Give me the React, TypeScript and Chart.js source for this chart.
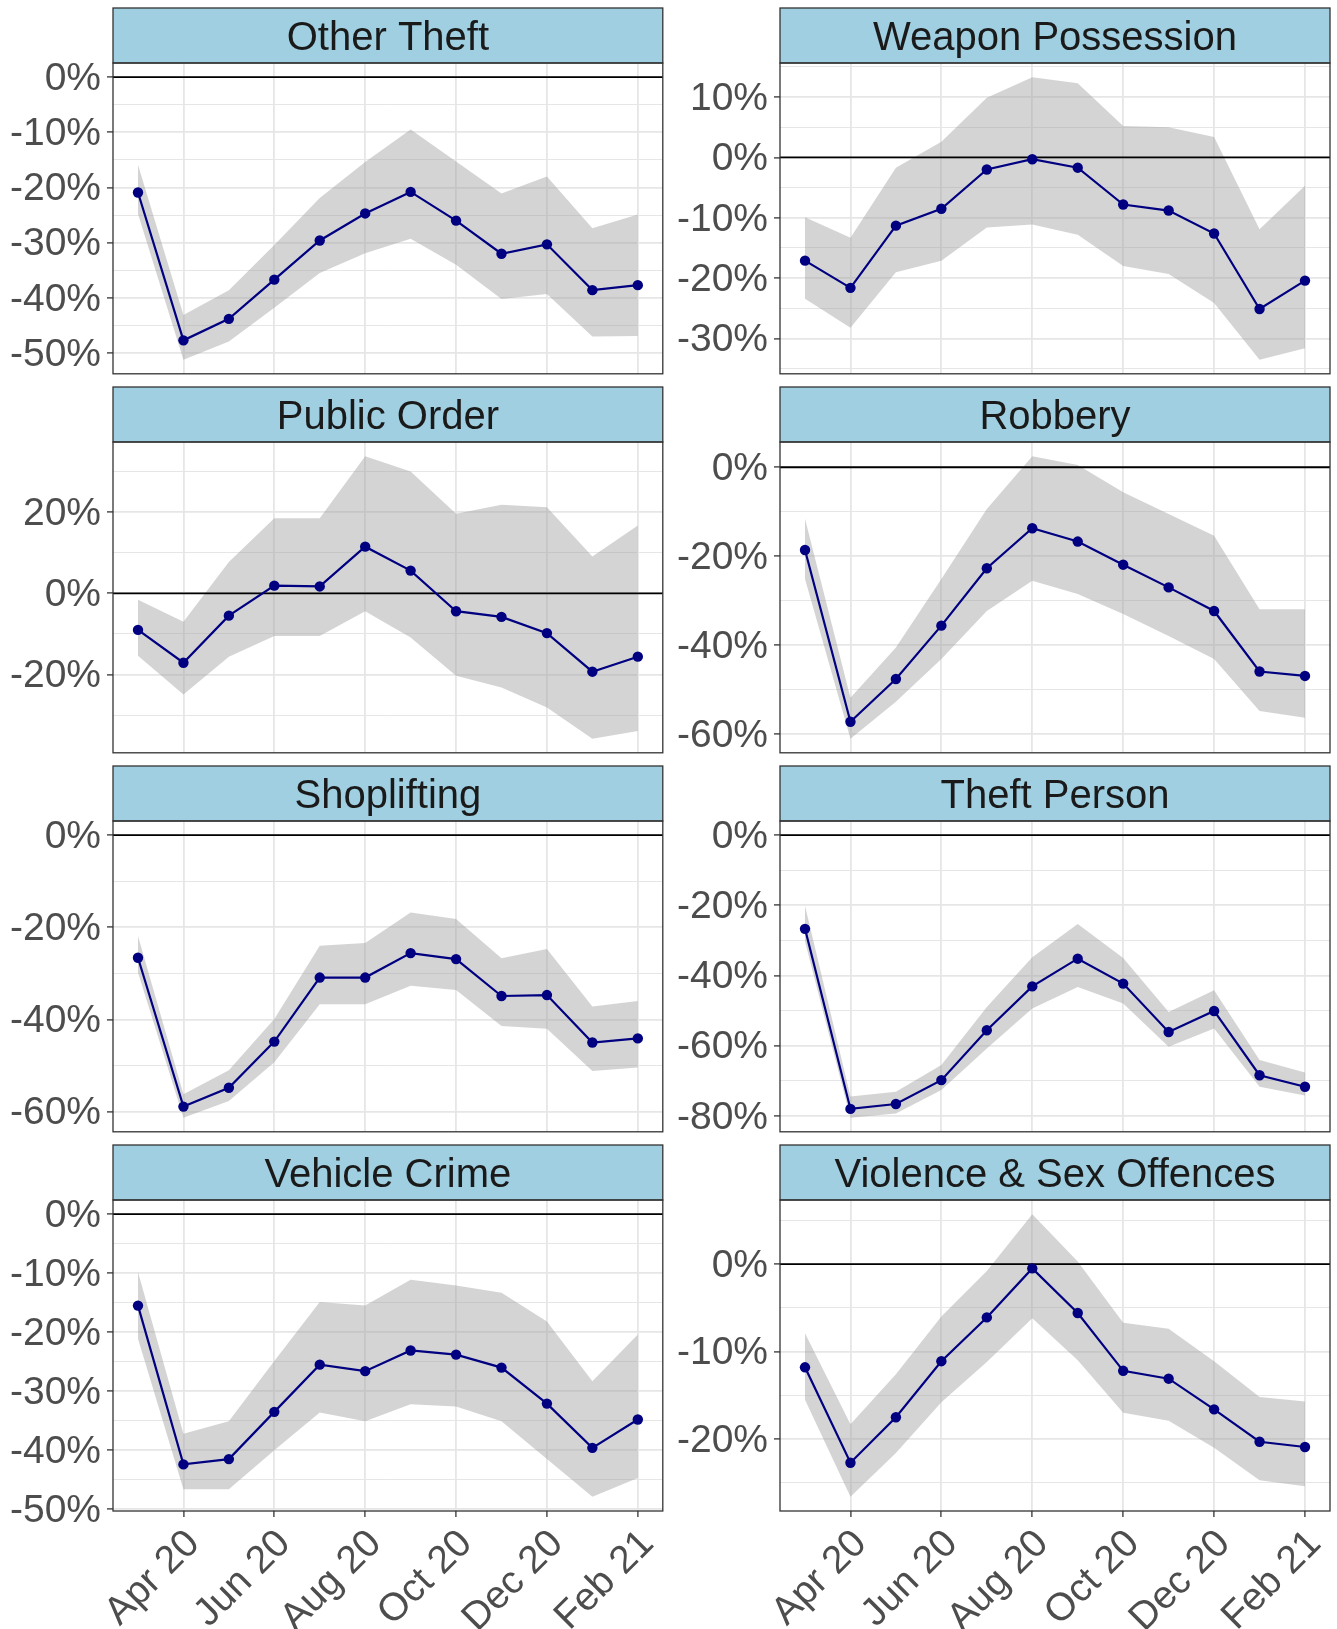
import React, { useEffect, useRef } from 'react';
import { Chart, registerables } from 'chart.js';
Chart.register(...registerables);

// ---------- data ----------
const MONTHS = ['Mar 20', 'Apr 20', 'May 20', 'Jun 20', 'Jul 20', 'Aug 20', 'Sep 20', 'Oct 20', 'Nov 20', 'Dec 20', 'Jan 21', 'Feb 21'];
const X_TICK_LABELS = ['Apr 20', 'Jun 20', 'Aug 20', 'Oct 20', 'Dec 20', 'Feb 21'];

const otherTheftEst = [-20.9, -47.7, -43.8, -36.7, -29.6, -24.7, -20.8, -26.0, -32.0, -30.3, -38.6, -37.7];
const otherTheftUpper = [-15.9, -43.1, -38.6, -30.4, -21.9, -15.4, -9.5, -15.3, -21.1, -18.0, -27.4, -24.9];
const otherTheftLower = [-24.8, -51.2, -47.9, -41.8, -35.5, -31.9, -29.3, -34.0, -40.2, -39.3, -47.0, -46.9];

const weaponEst = [-17.1, -21.6, -11.3, -8.5, -2.0, -0.3, -1.7, -7.8, -8.8, -12.6, -25.1, -20.4];
const weaponUpper = [-9.9, -13.3, -1.7, 2.6, 9.9, 13.3, 12.3, 5.2, 5.0, 3.4, -11.9, -4.7];
const weaponLower = [-23.4, -28.2, -19.0, -17.1, -11.6, -11.1, -12.8, -18.0, -19.3, -24.1, -33.5, -31.6];

const publicOrderEst = [-9.0, -17.1, -5.5, 1.9, 1.7, 11.5, 5.6, -4.4, -5.8, -9.8, -19.3, -15.6];
const publicOrderUpper = [-1.6, -7.0, 7.7, 18.5, 18.5, 33.8, 30.0, 19.6, 21.8, 21.2, 9.1, 16.7];
const publicOrderLower = [-15.4, -24.9, -15.6, -10.5, -10.5, -4.4, -10.9, -20.3, -23.2, -28.1, -35.8, -33.9];

const robberyEst = [-18.6, -57.2, -47.6, -35.6, -22.7, -13.7, -16.7, -21.9, -27.0, -32.3, -45.9, -46.9];
const robberyUpper = [-11.6, -51.8, -40.5, -25.1, -9.4, 2.5, 0.5, -5.6, -10.5, -15.4, -31.9, -31.9];
const robberyLower = [-25.1, -61.0, -52.7, -43.1, -32.3, -25.5, -28.5, -33.0, -37.9, -43.1, -54.8, -56.3];

const shopliftingEst = [-26.6, -58.9, -54.8, -44.8, -30.9, -30.9, -25.6, -26.9, -34.9, -34.7, -45.0, -44.1];
const shopliftingUpper = [-21.9, -56.2, -51.0, -39.9, -24.0, -23.4, -16.8, -18.2, -26.7, -24.7, -37.2, -36.0];
const shopliftingLower = [-29.8, -61.3, -57.7, -49.3, -36.7, -36.7, -32.7, -33.6, -41.4, -42.0, -51.2, -50.4];

const theftPersonEst = [-26.7, -78.0, -76.6, -69.8, -55.6, -43.1, -35.2, -42.3, -56.1, -50.1, -68.4, -71.7];
const theftPersonUpper = [-20.1, -74.5, -73.1, -65.5, -49.0, -34.8, -25.3, -35.0, -50.4, -44.2, -64.1, -67.6];
const theftPersonLower = [-30.3, -80.5, -79.3, -72.6, -60.8, -49.4, -43.3, -48.0, -60.3, -55.1, -71.7, -74.2];

const vehicleEst = [-15.5, -42.4, -41.5, -33.5, -25.5, -26.6, -23.1, -23.8, -26.0, -32.1, -39.6, -34.8];
const vehicleUpper = [-9.8, -37.2, -35.1, -24.9, -14.9, -15.5, -11.1, -12.1, -13.3, -18.2, -28.3, -20.4];
const vehicleLower = [-21.1, -46.6, -46.6, -40.0, -33.6, -35.1, -32.2, -32.6, -35.1, -41.5, -47.9, -44.7];

const violenceEst = [-11.8, -22.7, -17.5, -11.1, -6.1, -0.5, -5.6, -12.2, -13.1, -16.6, -20.3, -20.9];
const violenceUpper = [-7.9, -18.3, -12.6, -6.0, -0.8, 5.7, 0.3, -6.7, -7.4, -11.1, -15.2, -15.7];
const violenceLower = [-15.5, -26.6, -21.6, -15.8, -11.2, -6.2, -11.0, -17.0, -17.9, -21.0, -24.7, -25.4];

const PANEL_TITLES = ['Other Theft', 'Weapon Possession', 'Public Order', 'Robbery', 'Shoplifting', 'Theft Person', 'Vehicle Crime', 'Violence & Sex Offences'];
const PANEL_EST = [otherTheftEst, weaponEst, publicOrderEst, robberyEst, shopliftingEst, theftPersonEst, vehicleEst, violenceEst];
const PANEL_UPPER = [otherTheftUpper, weaponUpper, publicOrderUpper, robberyUpper, shopliftingUpper, theftPersonUpper, vehicleUpper, violenceUpper];
const PANEL_LOWER = [otherTheftLower, weaponLower, publicOrderLower, robberyLower, shopliftingLower, theftPersonLower, vehicleLower, violenceLower];
const PANEL_STEP = [10, 10, 20, 20, 20, 20, 10, 10];

// ---------- styling / layout ----------
const FONT = "'Liberation Sans', Arial, Helvetica, sans-serif";
const COL_W = [668, 669];
const COL_LEFT = [0, 668];
const Y_AXIS_W = [113, 112];
const PAD_RIGHT = [5, 7];
const ROW_H = 379;
const STRIP_TOP = 8;
const STRIP_H = 55;
const PLOT_H = 311;
const TOTAL_H = 1629;

function Panel({ idx }: { idx: number }) {
  const ref = useRef<HTMLCanvasElement>(null);
  const row = Math.floor(idx / 2);
  const col = idx % 2;
  const isBottom = row === 3;
  const top = row * ROW_H;
  const height = isBottom ? TOTAL_H - top : ROW_H;
  const width = COL_W[col];

  useEffect(() => {
    const canvas = ref.current!;
    const est = PANEL_EST[idx];
    const up = PANEL_UPPER[idx];
    const lo = PANEL_LOWER[idx];
    const step = PANEL_STEP[idx];
    const minorStep = step / 2;

    const dataMin = Math.min(0, ...lo);
    const dataMax = Math.max(0, ...up);
    const ypad = 0.05 * (dataMax - dataMin);
    const yMin = dataMin - ypad;
    const yMax = dataMax + ypad;
    const xpad = 0.05 * (MONTHS.length - 1);

    const yTicks: { value: number }[] = [];
    for (let k = Math.ceil(yMin / minorStep); k <= Math.floor(yMax / minorStep); k++) {
      yTicks.push({ value: k * minorStep });
    }
    const xTicks = X_TICK_LABELS.map((l) => ({ value: MONTHS.indexOf(l) }));
    const isMajor = (v: number) => Math.abs(v % step) < 1e-9;

    const plotArea = PLOT_H + STRIP_TOP + STRIP_H;
    const xAxisH = isBottom ? height - plotArea : 0;

    const facetPlugin = {
      id: 'facet' + idx,
      afterDatasetDraw(chart: any, args: any) {
        if (args.index !== 1) return;
        const { ctx, chartArea } = chart;
        const yy = chart.scales.y.getPixelForValue(0);
        ctx.save();
        ctx.strokeStyle = '#000000';
        ctx.lineWidth = 1.8;
        ctx.beginPath();
        ctx.moveTo(chartArea.left, yy);
        ctx.lineTo(chartArea.right, yy);
        ctx.stroke();
        ctx.restore();
      },
      afterDraw(chart: any) {
        const { ctx, chartArea } = chart;
        const { left, right, top: t, bottom } = chartArea;
        ctx.save();
        // strip
        ctx.fillStyle = '#9fcfe0';
        ctx.fillRect(left, STRIP_TOP, right - left, STRIP_H);
        ctx.strokeStyle = '#333333';
        ctx.lineWidth = 1.3;
        ctx.strokeRect(left, STRIP_TOP, right - left, STRIP_H);
        ctx.fillStyle = '#1a1a1a';
        ctx.font = `40px ${FONT}`;
        ctx.textAlign = 'center';
        ctx.textBaseline = 'middle';
        ctx.fillText(PANEL_TITLES[idx], (left + right) / 2, STRIP_TOP + STRIP_H / 2 + 3);
        // panel border
        ctx.strokeStyle = '#333333';
        ctx.lineWidth = 1.3;
        ctx.strokeRect(left, t, right - left, bottom - t);
        ctx.restore();
      },
    };

    const chart = new Chart(canvas, {
      type: 'line',
      data: {
        datasets: [
          {
            label: 'estimate',
            data: est.map((v, i) => ({ x: i, y: v })),
            borderColor: '#000080',
            borderWidth: 2.2,
            pointRadius: 5.2,
            pointBackgroundColor: '#000080',
            pointBorderWidth: 0,
            pointHoverRadius: 5.2,
            tension: 0,
            fill: false,
          },
          {
            label: 'upper',
            data: up.map((v, i) => ({ x: i, y: v })),
            borderColor: 'rgba(0,0,0,0)',
            borderWidth: 0,
            pointRadius: 0,
            backgroundColor: 'rgba(160,160,160,0.45)',
            fill: '+1',
            tension: 0,
          },
          {
            label: 'lower',
            data: lo.map((v, i) => ({ x: i, y: v })),
            borderColor: 'rgba(0,0,0,0)',
            borderWidth: 0,
            pointRadius: 0,
            fill: false,
            tension: 0,
          },
        ],
      },
      options: {
        animation: false,
        responsive: false,
        devicePixelRatio: 1,
        events: [],
        layout: {
          padding: { top: STRIP_TOP + STRIP_H, left: 0, right: PAD_RIGHT[col], bottom: isBottom ? 0 : height - plotArea },
        },
        plugins: {
          legend: { display: false },
          title: { display: false },
          tooltip: { enabled: false },
        },
        scales: {
          x: {
            type: 'linear',
            min: -xpad,
            max: MONTHS.length - 1 + xpad,
            afterBuildTicks: (s: any) => {
              s.ticks = xTicks.map((t) => ({ ...t }));
            },
            afterFit: (s: any) => {
              s.height = xAxisH;
              s.paddingLeft = 0;
              s.paddingRight = 0;
            },
            ticks: {
              display: isBottom,
              autoSkip: false,
              maxRotation: 45,
              minRotation: 45,
              padding: 4,
              labelOffset: 10,
              color: '#4d4d4d',
              font: { family: FONT, size: 39 },
              callback: (v: any) => MONTHS[Math.round(Number(v))],
            },
            grid: {
              color: '#e6e6e6',
              lineWidth: 1.8,
              drawTicks: isBottom,
              tickLength: 6,
              tickColor: '#333333',
              tickWidth: 1.3,
            },
            border: { display: false },
          },
          y: {
            type: 'linear',
            min: yMin,
            max: yMax,
            afterBuildTicks: (s: any) => {
              s.ticks = yTicks.map((t) => ({ ...t }));
            },
            afterFit: (s: any) => {
              s.width = Y_AXIS_W[col];
              s.paddingTop = 0;
              s.paddingBottom = 0;
            },
            ticks: {
              autoSkip: false,
              padding: 6,
              labelOffset: 2,
              color: '#4d4d4d',
              font: { family: FONT, size: 39 },
              callback: (v: any) => (isMajor(Number(v)) ? `${Math.round(Number(v))}%` : ''),
            },
            grid: {
              color: '#e6e6e6',
              lineWidth: (c: any) => (c.tick && isMajor(c.tick.value) ? 1.8 : 1),
              drawTicks: true,
              tickLength: 6,
              tickColor: (c: any) => (c.tick && isMajor(c.tick.value) ? '#333333' : 'rgba(0,0,0,0)'),
              tickWidth: 1.3,
            },
            border: { display: false },
          },
        },
      },
      plugins: [facetPlugin],
    } as any);
    return () => chart.destroy();
  }, [idx]);

  return (
    <canvas
      ref={ref}
      width={width}
      height={height}
      style={{ position: 'absolute', left: COL_LEFT[col], top, width, height, display: 'block' }}
    />
  );
}

export default function App() {
  return (
    <div style={{ position: 'absolute', left: 0, top: 0, width: 1337, height: TOTAL_H, background: '#ffffff', overflow: 'hidden' }}>
      {PANEL_TITLES.map((_, i) => (
        <Panel key={i} idx={i} />
      ))}
    </div>
  );
}
